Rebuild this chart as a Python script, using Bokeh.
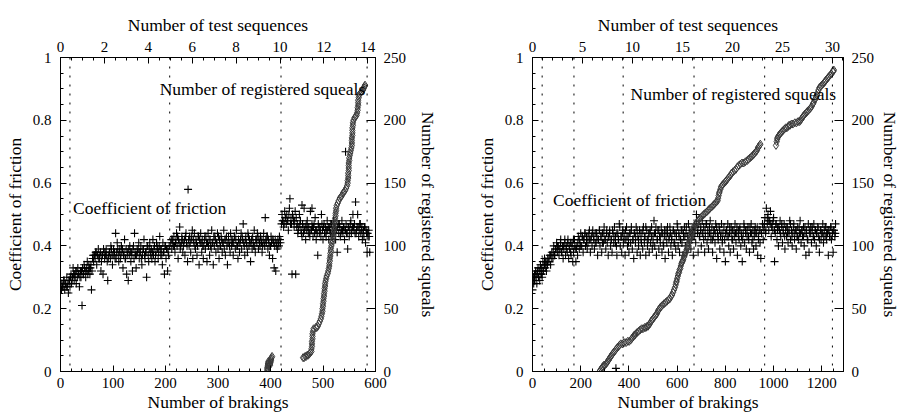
from bokeh.plotting import figure
from bokeh.models import (LinearAxis, Range1d, SingleIntervalTicker, CustomJSTickFormatter,
                          Span, Label)
from bokeh.layouts import row
from bokeh.embed import file_html
from bokeh.resources import INLINE

FONT = "Liberation Serif"

# ---------------- Left panel data ----------------
left_fric_b = [0,2,3,5,6,8,9,11,12,14,15,17,18,20,21,23,24,26,27,29,30,32,33,35,36,38,39,41,42,44,45,47,48,50,51,53,54,56,57,59,
 60,62,63,65,66,68,69,71,72,74,75,77,78,80,81,83,84,86,87,89,90,92,93,95,96,98,99,101,102,104,105,107,108,110,111,113,114,116,117,119,
 120,122,123,125,126,128,129,131,132,134,135,137,138,140,141,143,144,146,147,149,150,152,153,155,156,158,159,161,162,164,165,167,168,170,171,173,174,176,177,179,
 180,182,183,185,186,188,189,191,192,194,195,197,198,200,201,203,204,206,207,
 210,212,213,215,216,218,219,221,222,224,225,227,228,230,231,233,234,236,237,239,240,242,243,245,246,248,249,251,252,254,255,257,258,260,261,263,264,266,267,269,
 270,272,273,275,276,278,279,281,282,284,285,287,288,290,291,293,294,296,297,299,300,302,303,305,306,308,309,311,312,314,315,317,318,320,321,323,324,326,327,329,
 330,332,333,335,336,338,339,341,342,344,345,347,348,350,351,353,354,356,357,359,360,362,363,365,366,368,369,371,372,374,375,377,378,380,381,383,384,386,387,389,
 390,392,393,395,396,398,399,401,402,404,405,407,408,410,411,413,414,416,417,419,
 421,422,424,425,427,428,430,431,433,434,436,437,439,440,441,442,444,445,447,448,449,451,452,454,455,457,458,460,460,461,463,464,466,467,469,470,472,473,475,476,478,479,479,
 481,482,484,485,487,488,490,491,493,494,496,497,499,500,502,503,505,506,508,509,511,512,514,515,517,518,520,521,523,524,526,527,529,530,532,533,535,536,538,539,
 541,542,543,544,545,547,548,550,551,553,554,556,557,559,560,562,563,565,566,568,569,571,572,574,575,577,578,580,581,583,584,586,587,589,
 1,4,7,10,13,16,19,22,25,28,31,34,37,40,43,46,49,52,55,58,
 61,64,67,70,73,76,79,82,85,88,91,94,97,100,103,106,109,112,115,118,121,124,127,130,133,136,139,142,145,148,151,154,157,160,163,166,169,172,175,178,181,184,187,190,193,196,199,202,205,
 211,214,217,220,223,226,229,232,235,238,241,244,247,250,253,256,259,262,265,268,271,274,277,280,283,286,289,292,295,298,301,304,307,310,313,316,319,322,325,328,331,334,337,340,343,
 346,349,352,355,358,361,364,367,370,373,376,379,382,385,388,391,394,397,400,403,406,409,412,415,418,
 423,426,429,432,435,438,443,446,
 450,453,456,459,462,465,468,471,474,477,480,483,486,489,492,495,498,501,504,507,510,513,516,519,522,525,528,531,534,537,540,543,546,549,552,555,558,561,564,567,570,573,576,579,582,585,588]
left_fric_mu = [0.27,0.26,0.28,0.27,0.29,0.26,0.28,0.27,0.30,0.28,0.25,0.29,0.27,0.31,0.28,0.30,0.33,0.29,0.31,0.32,0.28,0.30,0.33,0.31,0.27,0.32,0.30,0.21,0.33,0.31,0.34,0.32,0.30,0.33,0.35,0.32,0.34,0.31,0.33,0.26,
 0.32,0.37,0.35,0.37,0.36,0.38,0.34,0.37,0.39,0.36,0.37,0.32,0.35,0.37,0.31,0.38,0.36,0.37,0.39,0.35,0.29,0.37,0.38,0.36,0.40,0.37,0.34,0.39,0.37,0.36,0.44,0.38,0.41,0.37,0.35,0.39,0.36,0.40,0.38,0.33,
 0.37,0.42,0.36,0.39,0.31,0.38,0.29,0.37,0.40,0.35,0.38,0.32,0.39,0.36,0.44,0.37,0.33,0.39,0.38,0.41,0.36,0.38,0.40,0.34,0.37,0.39,0.42,0.36,0.38,0.30,0.40,0.37,0.35,0.41,0.38,0.39,0.36,0.42,0.37,0.40,
 0.35,0.38,0.41,0.39,0.36,0.40,0.43,0.37,0.39,0.34,0.41,0.38,0.31,0.40,0.36,0.39,0.32,0.37,0.40,
 0.41,0.39,0.42,0.40,0.43,0.38,0.41,0.44,0.40,0.36,0.42,0.46,0.39,0.41,0.43,0.38,0.40,0.42,0.37,0.44,0.41,0.35,0.58,0.40,0.43,0.38,0.42,0.45,0.36,0.41,0.44,0.39,0.42,0.37,0.40,0.43,0.34,0.41,0.44,0.38,
 0.42,0.36,0.40,0.43,0.39,0.41,0.35,0.44,0.40,0.37,0.42,0.39,0.45,0.41,0.34,0.40,0.43,0.38,0.41,0.44,0.39,0.36,0.42,0.40,0.43,0.38,0.41,0.45,0.39,0.37,0.42,0.40,0.34,0.43,0.41,0.38,0.44,0.40,0.42,0.37,
 0.41,0.43,0.39,0.45,0.40,0.36,0.42,0.38,0.41,0.44,0.39,0.42,0.47,0.40,0.37,0.43,0.41,0.38,0.44,0.40,0.42,0.35,0.41,0.39,0.43,0.40,0.45,0.38,0.42,0.41,0.44,0.39,0.42,0.40,0.43,0.41,0.38,0.42,0.44,0.40,
 0.49,0.41,0.43,0.39,0.42,0.37,0.40,0.43,0.41,0.36,0.42,0.33,0.40,0.32,0.41,0.39,0.42,0.40,0.43,0.41,
 0.47,0.50,0.48,0.46,0.51,0.49,0.47,0.50,0.48,0.45,0.52,0.55,0.49,0.47,0.31,0.50,0.48,0.46,0.51,0.31,0.49,0.47,0.44,0.46,0.50,0.48,0.45,0.43,0.53,0.47,0.44,0.52,0.46,0.42,0.45,0.48,0.44,0.46,0.43,0.51,0.45,0.47,0.52,
 0.43,0.46,0.44,0.49,0.42,0.45,0.37,0.47,0.44,0.46,0.43,0.50,0.45,0.42,0.47,0.44,0.46,0.43,0.48,0.45,0.42,0.46,0.44,0.47,0.43,0.45,0.48,0.44,0.46,0.42,0.45,0.38,0.47,0.44,0.46,0.43,0.45,0.48,0.44,0.46,
 0.42,0.45,0.70,0.47,0.44,0.39,0.46,0.43,0.45,0.48,0.44,0.46,0.50,0.45,0.47,0.54,0.44,0.46,0.50,0.43,0.45,0.47,0.44,0.46,0.42,0.45,0.43,0.46,0.41,0.44,0.38,0.43,0.45,0.38,
 0.28,0.27,0.29,0.28,0.27,0.29,0.30,0.29,0.31,0.30,0.32,0.31,0.30,0.32,0.31,0.33,0.32,0.31,0.33,0.34,
 0.36,0.37,0.38,0.37,0.36,0.38,0.37,0.39,0.38,0.37,0.36,0.38,0.39,0.37,0.38,0.36,0.39,0.38,0.37,0.39,0.38,0.36,0.37,0.39,0.38,0.37,0.40,0.38,0.37,0.39,0.38,0.36,0.39,0.37,0.38,0.40,0.39,0.37,0.38,0.39,0.37,0.40,0.38,0.39,0.37,0.38,0.40,0.39,0.38,
 0.42,0.41,0.40,0.42,0.43,0.41,0.40,0.42,0.41,0.43,0.40,0.42,0.41,0.43,0.42,0.40,0.41,0.43,0.42,0.41,0.40,0.42,0.43,0.41,0.42,0.40,0.41,0.43,0.42,0.41,0.43,0.40,0.42,0.41,0.42,0.43,0.41,0.40,0.42,0.41,0.43,0.42,0.40,0.41,0.42,
 0.43,0.41,0.42,0.40,0.43,0.41,0.42,0.41,0.40,0.42,0.43,0.41,0.42,0.40,0.41,0.42,0.43,0.41,0.40,0.42,0.41,0.42,0.40,0.41,0.42,
 0.48,0.47,0.49,0.48,0.50,0.47,0.49,0.48,
 0.46,0.45,0.47,0.44,0.46,0.45,0.47,0.46,0.44,0.45,0.46,0.47,0.45,0.44,0.46,0.45,0.47,0.46,0.44,0.45,0.46,0.45,0.47,0.44,0.46,0.45,0.46,0.47,0.44,0.45,0.46,0.45,0.44,0.46,0.47,0.45,0.46,0.44,0.45,0.46,0.47,0.45,0.44,0.46,0.45,0.44,0.43]

left_sq_b = [394,394,394,394,395,395,395,396,396,399,399,400,400,401,401,402,403,
 462,464,466,468,470,472,474,476,478,478,479,479,479,480,480,480,481,482,
 486,488,490,492,494,496,497,498,499,499,500,500,501,501,502,502,503,503,504,504,505,506,507,509,510,511,512,512,513,513,514,514,515,515,
 516,517,518,519,520,520,521,521,522,522,523,523,524,524,525,525,526,528,530,532,534,536,538,540,542,544,546,547,547,548,548,548,549,549,549,549,
 550,550,551,552,553,554,555,555,555,555,556,556,556,556,557,557,558,560,562,564,565,566,566,567,567,567,568,568,570,572,574,576,577,578,579,580]
left_sq_n = [0,1,2,3,4,5,6,7,8,5,6,7,8,9,10,11,12,
 11,11,12,12,13,13,14,15,16,18,20,22,24,26,28,30,32,34,
 35,35,36,38,40,42,44,46,48,50,52,54,56,58,60,62,64,66,68,70,72,74,76,78,80,82,84,86,88,90,92,94,96,98,
 100,102,104,106,108,110,112,114,116,118,120,122,124,126,128,130,132,134,136,138,139,140,142,143,144,146,148,150,152,154,156,158,160,162,164,166,
 168,170,172,174,176,178,180,182,184,186,188,190,192,194,196,198,200,202,203,204,206,208,210,212,214,216,218,220,221,222,223,224,225,226,227,228]

left_breaks = [18, 208, 420, 584]

# ---------------- Right panel data ----------------
right_fric_b = [0,3,5,8,10,13,15,18,20,23,25,28,30,33,35,38,40,43,45,48,50,53,55,58,60,63,68,72,75,80,85,88,92,95,
 100,103,107,110,114,117,120,124,127,130,134,137,140,144,147,150,154,157,160,164,167,170,174,177,180,184,187,190,194,197,
 200,204,207,210,214,217,220,224,227,230,234,237,240,244,247,250,254,257,260,264,267,270,274,277,280,284,287,290,294,297,
 300,304,307,310,314,317,320,324,327,330,334,337,340,344,346,348,350,354,357,360,364,367,370,374,377,380,384,387,390,394,397,
 400,404,407,410,414,417,420,424,427,430,434,437,440,444,447,450,454,457,460,464,467,470,474,477,480,484,487,490,494,497,
 500,504,507,510,514,517,520,524,527,530,534,537,540,544,547,550,554,557,560,564,567,570,574,577,580,584,587,590,594,597,
 600,604,607,610,614,617,620,624,627,630,634,637,640,644,647,650,654,657,660,664,667,670,674,677,680,684,687,690,694,697,
 700,704,707,710,714,717,720,724,727,730,734,737,740,744,747,750,754,757,760,764,767,770,774,777,780,784,787,790,794,797,
 800,804,807,810,814,817,820,824,827,830,834,837,840,844,847,850,854,857,860,864,867,870,874,877,880,884,887,890,894,897,
 900,904,907,910,914,917,920,924,927,930,934,937,940,944,947,950,954,957,960,964,967,970,974,977,980,984,987,990,994,997,
 1000,1004,1007,1010,1014,1017,1020,1024,1027,1030,1034,1037,1040,1044,1047,1050,1054,1057,1060,1064,1067,1070,1074,1077,1080,1084,1087,1090,1094,1097,
 1100,1104,1107,1110,1114,1117,1120,1124,1127,1130,1134,1137,1140,1144,1147,1150,1154,1157,1160,1164,1167,1170,1174,1177,1180,1184,1187,1190,1194,1197,
 1200,1204,1207,1210,1214,1217,1220,1224,1227,1230,1234,1237,1240,1244,1247,1250,1254,1257,
 2,8,14,20,26,32,38,44,50,
 56,62,68,74,80,86,92,98,
 104,110,116,122,128,134,140,146,152,158,164,170,176,182,188,194,200,
 206,212,218,224,230,236,242,248,254,260,
 266,272,278,284,290,296,302,308,314,320,
 326,332,338,344,350,356,362,368,374,380,
 386,392,398,404,410,416,422,428,434,440,
 446,452,458,464,470,476,482,488,494,500,
 506,512,518,524,530,536,542,548,554,560,
 566,572,578,584,590,596,602,608,614,620,
 626,632,638,644,650,656,662,668,674,680,
 686,692,698,704,710,716,722,728,734,740,
 746,752,758,764,770,776,782,788,794,800,
 806,812,818,824,830,836,842,848,854,860,
 866,872,878,884,890,896,902,908,914,920,
 926,932,938,944,950,956,962,968,974,980,
 986,992,998,1004,1010,1016,1022,1028,1034,1040,
 1046,1052,1058,1064,1070,1076,1082,1088,1094,1100,
 1106,1112,1118,1124,1130,1136,1142,1148,1154,1160,
 1166,1172,1178,1184,1190,1196,1202,1208,1214,1220,
 1226,1232,1238,1244,1250,1256]
right_fric_mu = [0.26,0.30,0.28,0.31,0.29,0.32,0.30,0.28,0.31,0.33,0.30,0.32,0.29,0.34,0.31,0.33,0.30,0.35,0.32,0.34,0.36,0.33,0.35,0.32,0.34,0.36,0.35,0.37,0.34,0.38,0.36,0.40,0.37,0.39,
 0.41,0.38,0.40,0.37,0.39,0.42,0.38,0.40,0.36,0.39,0.41,0.37,0.40,0.38,0.42,0.36,0.39,0.41,0.37,0.40,0.35,0.38,0.42,0.39,0.35,0.40,0.37,0.43,0.39,0.41,
 0.44,0.40,0.43,0.38,0.42,0.44,0.40,0.43,0.39,0.41,0.44,0.42,0.38,0.43,0.40,0.45,0.42,0.39,0.44,0.41,0.43,0.37,0.42,0.45,0.40,0.43,0.38,0.44,0.41,0.46,
 0.42,0.39,0.44,0.41,0.37,0.43,0.45,0.40,0.42,0.38,0.44,0.41,0.46,0.43,0.01,0.40,0.37,0.44,0.42,0.47,0.40,0.43,0.38,0.45,0.41,0.44,0.37,0.42,0.46,0.40,0.43,
 0.38,0.44,0.41,0.45,0.39,0.42,0.36,0.44,0.41,0.46,0.38,0.43,0.40,0.45,0.37,0.42,0.44,0.39,0.46,0.41,0.43,0.37,0.45,0.40,0.42,0.38,0.44,0.41,0.46,0.39,
 0.43,0.48,0.40,0.44,0.37,0.42,0.45,0.39,0.43,0.41,0.46,0.38,0.44,0.40,0.43,0.36,0.45,0.41,0.44,0.38,0.43,0.46,0.40,0.42,0.37,0.45,0.41,0.44,0.39,0.43,
 0.47,0.40,0.44,0.38,0.42,0.45,0.41,0.37,0.43,0.46,0.40,0.44,0.38,0.43,0.47,0.41,0.44,0.39,0.42,0.45,0.37,0.43,0.46,0.41,0.50,0.44,0.38,0.47,0.43,0.45,
 0.40,0.48,0.44,0.46,0.38,0.43,0.47,0.41,0.45,0.39,0.44,0.48,0.42,0.46,0.38,0.43,0.45,0.41,0.47,0.36,0.44,0.42,0.46,0.39,0.43,0.47,0.41,0.44,0.38,0.42,
 0.35,0.45,0.43,0.47,0.40,0.44,0.38,0.46,0.42,0.45,0.39,0.43,0.47,0.41,0.44,0.37,0.45,0.42,0.46,0.40,0.43,0.35,0.44,0.47,0.41,0.45,0.39,0.43,0.46,0.42,
 0.38,0.44,0.47,0.41,0.45,0.39,0.43,0.46,0.40,0.44,0.37,0.42,0.45,0.41,0.36,0.44,0.47,0.42,0.45,0.49,0.44,0.52,0.47,0.50,0.45,0.48,0.51,0.43,0.47,0.45,
 0.49,0.35,0.44,0.47,0.42,0.46,0.40,0.45,0.48,0.43,0.46,0.41,0.44,0.47,0.39,0.45,0.43,0.46,0.41,0.44,0.48,0.42,0.45,0.40,0.44,0.47,0.42,0.45,0.39,0.43,
 0.46,0.42,0.44,0.48,0.41,0.45,0.43,0.46,0.40,0.44,0.37,0.45,0.42,0.47,0.38,0.44,0.46,0.41,0.45,0.43,0.47,0.42,0.45,0.40,0.44,0.46,0.43,0.38,0.45,0.42,
 0.44,0.47,0.41,0.45,0.43,0.46,0.42,0.44,0.37,0.45,0.43,0.46,0.42,0.44,0.38,0.45,0.43,0.47,
 0.30,0.29,0.31,0.32,0.30,0.33,0.31,0.32,0.34,
 0.35,0.34,0.36,0.37,0.36,0.38,0.37,0.39,
 0.40,0.39,0.41,0.38,0.40,0.42,0.39,0.41,0.40,0.38,0.41,0.42,0.40,0.39,0.41,0.42,0.40,
 0.43,0.42,0.44,0.41,0.43,0.45,0.42,0.44,0.43,0.41,
 0.44,0.42,0.45,0.43,0.41,0.44,0.42,0.45,0.43,0.44,
 0.42,0.45,0.43,0.41,0.44,0.42,0.46,0.43,0.44,0.42,
 0.45,0.43,0.41,0.44,0.46,0.42,0.44,0.43,0.45,0.42,
 0.44,0.41,0.45,0.43,0.46,0.42,0.44,0.45,0.43,0.41,
 0.44,0.46,0.42,0.45,0.43,0.44,0.41,0.45,0.43,0.46,
 0.42,0.44,0.43,0.45,0.41,0.44,0.46,0.43,0.42,0.45,
 0.44,0.43,0.46,0.42,0.45,0.44,0.43,0.46,0.44,0.47,
 0.45,0.43,0.46,0.44,0.42,0.45,0.47,0.43,0.46,0.44,
 0.42,0.45,0.44,0.46,0.43,0.45,0.44,0.42,0.46,0.44,
 0.45,0.43,0.46,0.44,0.42,0.45,0.44,0.46,0.43,0.45,
 0.44,0.42,0.46,0.44,0.45,0.43,0.46,0.44,0.42,0.45,
 0.44,0.46,0.43,0.45,0.44,0.46,0.47,0.45,0.49,0.48,
 0.47,0.46,0.48,0.45,0.47,0.45,0.46,0.44,0.47,0.45,
 0.43,0.46,0.44,0.45,0.47,0.43,0.46,0.44,0.45,0.43,
 0.46,0.44,0.45,0.43,0.46,0.44,0.42,0.45,0.44,0.46,
 0.43,0.45,0.44,0.46,0.42,0.45,0.44,0.43,0.46,0.44,
 0.45,0.43,0.46,0.44,0.45,0.44]

right_sq_b = [278,281,285,288,292,296,300,305,308,312,315,318,322,325,328,332,336,340,344,348,352,357,361,366,373,380,388,395,401,407,
 411,415,419,422,425,428,434,440,446,452,458,465,470,475,479,482,487,492,496,500,504,508,512,516,520,523,527,530,535,540,
 546,552,558,564,570,575,579,583,587,591,594,596,598,600,603,605,608,610,613,615,618,620,623,625,628,630,633,636,639,642,
 645,648,650,653,655,657,659,662,665,669,672,676,680,683,686,690,695,700,705,710,716,722,727,732,737,743,748,753,758,763,
 768,770,772,774,776,779,782,786,790,795,800,804,808,812,816,821,826,832,838,844,850,856,862,869,876,883,891,896,902,908,
 913,918,922,927,931,935,938,942,945,1010,1013,1015,1016,1019,1022,1026,1030,1035,1040,1045,1050,1055,1060,1064,1068,1074,1080,1088,1095,1102,
 1108,1112,1115,1119,1122,1126,1130,1136,1140,1145,1150,1154,1158,1163,1166,1170,1173,1176,1180,1183,1186,1190,1195,1200,1205,1210,1214,1217,1222,1226,
 1230,1235,1240,1245,1248,1250]
right_sq_n = [0,1,2,3,4,5,5,6,7,8,9,10,11,12,13,14,15,16,17,18,19,20,21,22,22,23,23,24,24,25,
 26,27,28,29,29,30,31,32,33,34,34,35,35,36,36,37,38,40,41,42,43,44,45,46,48,49,50,51,52,53,
 54,55,56,57,58,60,61,63,65,67,69,71,72,74,76,78,79,81,82,84,86,87,88,89,91,92,94,95,97,98,
 100,102,104,105,107,108,110,111,113,114,116,117,118,119,120,121,122,123,124,125,126,127,128,129,130,131,132,133,134,135,
 136,138,140,142,143,145,147,148,149,150,151,152,153,154,155,156,158,159,160,161,163,164,165,166,166,167,168,169,170,171,
 172,173,174,175,176,178,179,180,181,180,183,185,186,187,188,189,190,191,192,193,194,194,195,196,196,197,197,198,198,199,
 199,200,201,202,203,204,205,206,207,208,209,210,211,213,214,216,217,219,220,222,224,226,227,228,229,230,231,232,233,234,
 235,236,237,239,239,240]

right_breaks = [40, 172, 376, 670, 963, 1244]

# Axis ranges
left_brakings_max, left_seq_max = 600, 14.35
right_brakings_max, right_seq_max = 1290, 31.1
squeal_max = 250


def make_panel(fb, fm, sb, sn, breaks, bmax, seqmax, b_int, b_minor, s_int, s_minor,
               lab_sq, lab_fr, width, mb_left, mb_right, right_lab_standoff):
    p = figure(width=width, height=416, output_backend="svg", toolbar_location=None,
               x_range=Range1d(0, bmax), y_range=Range1d(0, 1),
               min_border_left=mb_left, min_border_right=mb_right,
               min_border_top=57, min_border_bottom=45)
    p.extra_x_ranges = {"seq": Range1d(0, seqmax)}
    p.extra_y_ranges = {"sq": Range1d(0, squeal_max)}
    p.grid.visible = False
    p.outline_line_color = "black"
    p.background_fill_color = "white"
    p.border_fill_color = "white"

    bottom = p.below[0]
    left = p.left[0]
    top = LinearAxis(x_range_name="seq")
    p.add_layout(top, "above")
    right = LinearAxis(y_range_name="sq")
    p.add_layout(right, "right")

    bottom.axis_label = "Number of brakings"
    top.axis_label = "Number of test sequences"
    left.axis_label = "Coefficient of friction"
    right.axis_label = "Number of registered squeals"

    bottom.ticker = SingleIntervalTicker(interval=b_int, num_minor_ticks=b_minor)
    top.ticker = SingleIntervalTicker(interval=s_int, num_minor_ticks=s_minor)
    left.ticker = SingleIntervalTicker(interval=0.2, num_minor_ticks=4)
    left.formatter = CustomJSTickFormatter(code="return (Math.round(tick*100)/100).toString();")
    right.ticker = SingleIntervalTicker(interval=50, num_minor_ticks=0)

    for ax in [bottom, top, left, right]:
        ax.axis_line_color = "black"
        ax.major_tick_line_color = "black"
        ax.minor_tick_line_color = "black"
        ax.major_tick_in = 6
        ax.major_tick_out = 0
        ax.minor_tick_in = 3
        ax.minor_tick_out = 0
        ax.major_label_text_font = FONT
        ax.major_label_text_font_size = "15px"
        ax.major_label_text_color = "black"
        ax.axis_label_text_font = FONT
        ax.axis_label_text_font_size = "17.5px"
        ax.axis_label_text_font_style = "normal"
        ax.axis_label_text_color = "black"
    right.major_tick_in = 9
    right.minor_tick_line_color = None
    bottom.major_label_standoff = 6
    bottom.axis_label_standoff = 1
    top.major_label_standoff = 6
    top.axis_label_standoff = 4
    left.major_label_standoff = 9
    left.axis_label_standoff = 5
    right.major_label_standoff = 8
    right.axis_label_standoff = right_lab_standoff

    for b in breaks:
        p.add_layout(Span(location=b, dimension="height", line_color="black",
                          line_width=1, line_dash="2 7"))

    p.scatter(fb, fm, marker="cross", size=8, line_color="black", line_width=1.1)
    p.scatter(sb, sn, y_range_name="sq", marker="diamond", size=8,
              line_color="#3a3a3a", fill_alpha=0, line_width=1)

    for (x, y, t) in [lab_sq + ("Number of registered squeals",), lab_fr + ("Coefficient of friction",)]:
        p.add_layout(Label(x=x, y=y, text=t, text_font=FONT, text_font_size="17.5px",
                           text_color="black", text_baseline="middle", text_align="left"))
    return p


p1 = make_panel(left_fric_b, left_fric_mu, left_sq_b, left_sq_n, left_breaks,
                left_brakings_max, left_seq_max, 100, 5, 2, 4,
                (189, 0.90), (24, 0.52), 472, 60, 97, 9)
p2 = make_panel(right_fric_b, right_fric_mu, right_sq_b, right_sq_n, right_breaks,
                right_brakings_max, right_seq_max, 200, 4, 5, 5,
                (407, 0.885), (85, 0.545), 431, 60, 56, 3)

layout = row(p1, p2)
open("out.html", "w").write(file_html(layout, INLINE))
